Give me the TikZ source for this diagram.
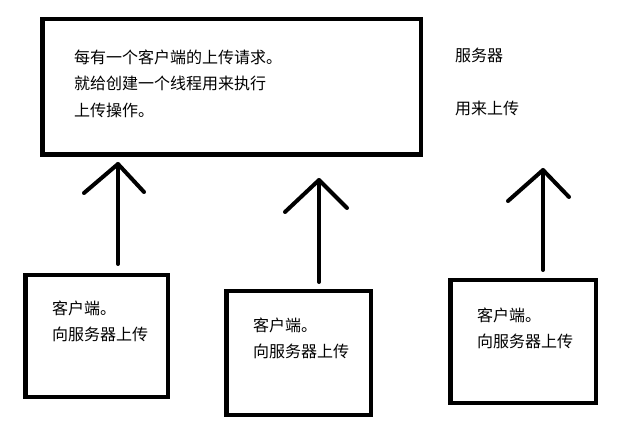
\documentclass[tikz,border=0pt]{standalone}
\usepackage{fontspec}
\newfontfamily\cjk{Noto Sans CJK SC}
\begin{document}
\begin{tikzpicture}[x=1pt, y=-1pt,
  box/.style={draw, line width=4.5pt, inner sep=0pt},
  words/.style={anchor=north west, align=left, inner sep=0pt, font=\cjk\fontsize{16}{26.5}\selectfont},
  stroke/.style={line width=4pt, line cap=round, line join=round}]
\useasboundingbox (0,0) rectangle (632,430);

% the server box and its texts
\node[box, minimum width=378.5pt, minimum height=135.5pt] (server) at (231.5,87) {};
\node[words] (servertext) at (74,49.6) {每有一个客户端的上传请求。\\就给创建一个线程用来执行\\上传操作。};
\node[words] (servername) at (455,47.6) {服务器};
\node[words] (serverjob) at (455,100.6) {用来上传};

% the three clients
\node[box, minimum width=142.5pt, minimum height=121.5pt] (client1) at (96.5,336) {};
\node[words] (client1text) at (52,300.6) {客户端。\\向服务器上传};
\node[box, minimum width=144.5pt, minimum height=123.5pt] (client2) at (298.5,353) {};
\node[words] (client2text) at (253,317.6) {客户端。\\向服务器上传};
\node[box, minimum width=145.5pt, minimum height=122.5pt] (client3) at (523,341.5) {};
\node[words] (client3text) at (477,307.6) {客户端。\\向服务器上传};

% hand drawn arrows up to the server
\coordinate (up1foot) at (118,264);
\coordinate (up1top) at (118,164);
\draw[stroke] (up1foot) -- (up1top);
\draw[stroke] (84,193) -- (up1top) -- (144,192);

\coordinate (up2foot) at (319,282);
\coordinate (up2top) at (319,180);
\draw[stroke] (up2foot) -- (up2top);
\draw[stroke] (285,212) -- (up2top) -- (347,208);

\coordinate (up3foot) at (543,270);
\coordinate (up3top) at (543,170);
\draw[stroke] (up3foot) -- (up3top);
\draw[stroke] (508,201) -- (up3top) -- (569,197);
\end{tikzpicture}
\end{document}
